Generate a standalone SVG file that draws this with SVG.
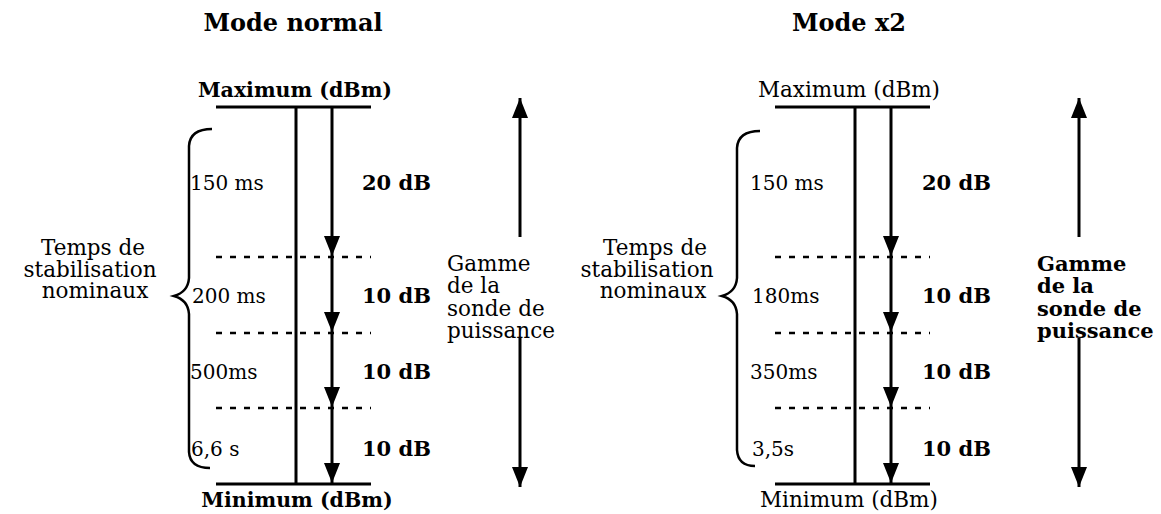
<svg xmlns="http://www.w3.org/2000/svg" width="1161" height="514" viewBox="0 0 1161 514">
<defs>
<style>
.t{font-family:"DejaVu Serif","Liberation Serif",serif;font-size:20px;fill:#000}
.b{font-weight:bold}
.db{font-size:21px}
.hb{font-size:20.5px}
.hr{font-size:21.5px}
.g{font-size:21.5px}
.ti{font-size:24px}
.ln{stroke:#000;stroke-width:3;fill:none}
.dot{stroke:#000;stroke-width:2.5;stroke-dasharray:6 8;fill:none}
.br{stroke:#000;stroke-width:2.5;fill:none}
</style>
<marker id="arr" viewBox="0 0 20 16" refX="20" refY="8" markerWidth="20" markerHeight="16" markerUnits="userSpaceOnUse" orient="auto">
<path d="M0,0 L20,8 L0,16 Z" fill="#000"/>
</marker>
</defs>
<rect width="1161" height="514" fill="#fff"/>

<g id="titles">
<text class="t b ti" x="293" y="31" text-anchor="middle">Mode normal</text>
<text class="t b ti" x="849" y="31" text-anchor="middle">Mode x2</text>
</g>

<g id="normal">
<g id="normal-scale">
<text class="t b hb" x="295" y="97" text-anchor="middle">Maximum (dBm)</text>
<text class="t b hb" x="297" y="507" text-anchor="middle">Minimum (dBm)</text>
<path class="ln" d="M216,107 H371 M216,484 H371 M296,107 V484"/>
<path class="dot" d="M216,257 H371 M216,333 H371 M216,408 H371"/>
</g>
<g id="normal-times">
<path class="br" d="M212,129 Q190,129 189,146 V278 Q188,292 174,296 Q188,300 189,314 V452 Q190,468 210,468"/>
<text class="t g" x="93" y="255" text-anchor="middle">Temps de</text>
<text class="t g" x="90" y="277" text-anchor="middle">stabilisation</text>
<text class="t g" x="95" y="298" text-anchor="middle">nominaux</text>
<text class="t" x="190" y="190">150 ms</text>
<text class="t" x="192" y="303">200 ms</text>
<text class="t" x="190" y="379">500ms</text>
<text class="t" x="191" y="456">6,6 s</text>
</g>
<g id="normal-steps">
<text class="t b db" x="362" y="190">20 dB</text>
<text class="t b db" x="362" y="303">10 dB</text>
<text class="t b db" x="362" y="379">10 dB</text>
<text class="t b db" x="362" y="456">10 dB</text>
</g>
<g id="normal-range">
<text class="t g" x="447" y="271">Gamme</text>
<text class="t g" x="447" y="293">de la</text>
<text class="t g" x="447" y="316">sonde de</text>
<text class="t g" x="447" y="338">puissance</text>
</g>
</g>

<g id="x2">
<g id="x2-scale">
<text class="t hr" x="849" y="97" text-anchor="middle">Maximum (dBm)</text>
<text class="t hr" x="849" y="507" text-anchor="middle">Minimum (dBm)</text>
<path class="ln" d="M775,107 H930 M775,484 H930 M855,107 V484"/>
<path class="dot" d="M775,257 H930 M775,333 H930 M775,408 H930"/>
</g>
<g id="x2-times">
<path class="br" d="M760,131 Q738,131 737,148 V278 Q736,292 722,296 Q736,300 737,314 V450 Q738,466 755,466"/>
<text class="t g" x="655" y="255" text-anchor="middle">Temps de</text>
<text class="t g" x="647" y="277" text-anchor="middle">stabilisation</text>
<text class="t g" x="653" y="298" text-anchor="middle">nominaux</text>
<text class="t" x="750" y="190">150 ms</text>
<text class="t" x="752" y="303">180ms</text>
<text class="t" x="750" y="379">350ms</text>
<text class="t" x="752" y="456">3,5s</text>
</g>
<g id="x2-steps">
<text class="t b db" x="922" y="190">20 dB</text>
<text class="t b db" x="922" y="303">10 dB</text>
<text class="t b db" x="922" y="379">10 dB</text>
<text class="t b db" x="922" y="456">10 dB</text>
</g>
<g id="x2-range">
<text class="t b db" x="1037" y="271">Gamme</text>
<text class="t b db" x="1037" y="293">de la</text>
<text class="t b db" x="1037" y="316">sonde de</text>
<text class="t b db" x="1037" y="338">puissance</text>
</g>
</g>

<g id="connectors">
<path class="ln" d="M332,107 V256" marker-end="url(#arr)"/>
<path class="ln" d="M332,257 V332" marker-end="url(#arr)"/>
<path class="ln" d="M332,333 V407" marker-end="url(#arr)"/>
<path class="ln" d="M332,408 V483" marker-end="url(#arr)"/>
<path class="ln" d="M520,237 V98" marker-end="url(#arr)"/>
<path class="ln" d="M520,338 V487" marker-end="url(#arr)"/>
<path class="ln" d="M891,107 V256" marker-end="url(#arr)"/>
<path class="ln" d="M891,257 V332" marker-end="url(#arr)"/>
<path class="ln" d="M891,333 V407" marker-end="url(#arr)"/>
<path class="ln" d="M891,408 V483" marker-end="url(#arr)"/>
<path class="ln" d="M1079,237 V98" marker-end="url(#arr)"/>
<path class="ln" d="M1079,338 V487" marker-end="url(#arr)"/>
</g>
</svg>
